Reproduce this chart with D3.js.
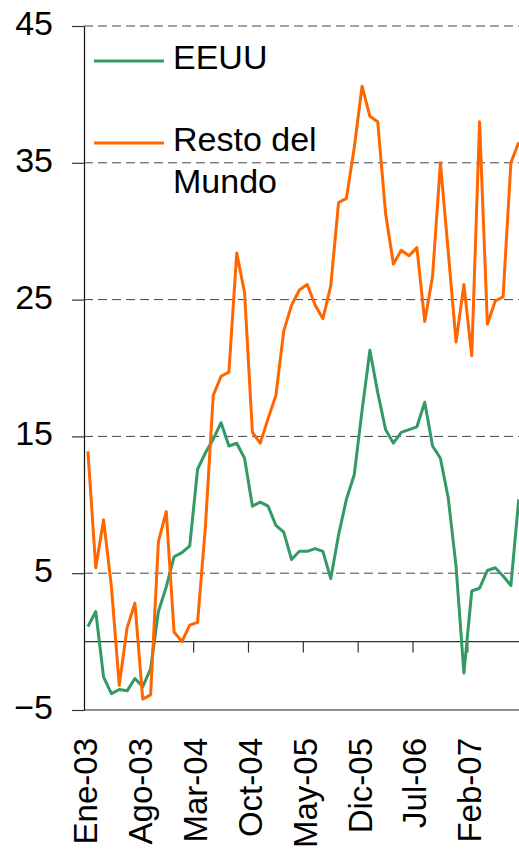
<!DOCTYPE html>
<html>
<head>
<meta charset="utf-8">
<script src="https://cdn.jsdelivr.net/npm/d3@7"></script>
<style>
  body { margin: 0; background: #fff; }
  svg { display: block; font-family: "Liberation Sans", Arial, sans-serif; }
</style>
</head>
<body>
<script>
// month names, Spanish abbreviations
var monthNames = ["Ene", "Feb", "Mar", "Abr", "May", "Jun", "Jul", "Ago", "Sep", "Oct", "Nov", "Dic"];
var years = ["03", "04", "05", "06", "07"];
var nMonths = 56; // Ene-03 .. Ago-07

var yTicks = [-5, 5, 15, 25, 35, 45];
var gridValues = [5, 15, 25, 35, 45];

var eeuu = [
  1.1, 2.2, -2.6, -3.8, -3.5, -3.6, -2.7, -3.3, -2.0, 2.2, 4.0, 6.2,
  6.5, 7.0, 12.6, 13.8, 14.8, 16.0, 14.3, 14.5, 13.4, 9.9, 10.2, 9.9,
  8.5, 8.0, 6.0, 6.6, 6.6, 6.8, 6.6, 4.6, 7.8, 10.4, 12.2, 16.9,
  21.3, 18.2, 15.5, 14.5, 15.3, 15.5, 15.7, 17.5, 14.3, 13.4, 10.5, 5.5,
  -2.3, 3.7, 3.9, 5.2, 5.4, 4.8, 4.1, 10.4
];
var restoMundo = [
  13.9, 5.4, 8.9, 4.0, -3.2, 1.0, 2.8, -4.2, -3.9, 7.3, 9.5, 0.7,
  0.0, 1.2, 1.4, 8.4, 18.0, 19.4, 19.7, 28.4, 25.5, 15.3, 14.5, 16.3,
  18.0, 22.7, 24.6, 25.7, 26.1, 24.6, 23.6, 26.0, 32.1, 32.4, 36.1, 40.6,
  38.4, 38.0, 31.3, 27.6, 28.6, 28.2, 28.8, 23.4, 26.7, 35.0, 28.5, 21.9,
  26.1, 20.9, 38.0, 23.2, 24.9, 25.2, 35.0, 36.5
];

var series = [
  { name: ["EEUU"], values: eeuu, color: "#339966" },
  { name: ["Resto del", "Mundo"], values: restoMundo, color: "#FF6600" }
];

var months = [];
for (var i = 0; i < nMonths; i++) {
  months.push(monthNames[i % 12] + "-" + years[Math.floor(i / 12)]);
}

var width = 519, height = 849;
var plotLeft = 84, plotTop = 26, plotBottom = 710;
var step = 7.833;

var svg = d3.select("body").append("svg")
  .attr("width", width)
  .attr("height", height);

var x = d3.scaleBand()
  .domain(months)
  .range([plotLeft, plotLeft + nMonths * step])
  .paddingInner(0).paddingOuter(0);

var y = d3.scaleLinear()
  .domain([-5, 45])
  .range([plotBottom, plotTop]);

// dashed gridlines
svg.append("g").selectAll("line")
  .data(gridValues)
  .enter().append("line")
  .attr("x1", plotLeft).attr("x2", width)
  .attr("y1", function (d) { return y(d); })
  .attr("y2", function (d) { return y(d); })
  .attr("stroke", "#444")
  .attr("stroke-width", 1)
  .attr("stroke-dasharray", "9,5");

// bottom border at -5
svg.append("line")
  .attr("x1", plotLeft).attr("x2", width)
  .attr("y1", y(-5)).attr("y2", y(-5))
  .attr("stroke", "#222").attr("stroke-width", 1.2);

// zero line with category ticks
svg.append("line")
  .attr("x1", plotLeft).attr("x2", width)
  .attr("y1", y(0)).attr("y2", y(0))
  .attr("stroke", "#333").attr("stroke-width", 1.2);

var labelMonths = months.filter(function (d, i) { return i % 7 === 0; });

svg.append("g").selectAll("line")
  .data(labelMonths.slice(1))
  .enter().append("line")
  .attr("x1", function (d) { return x(d); })
  .attr("x2", function (d) { return x(d); })
  .attr("y1", y(0)).attr("y2", y(0) + 11)
  .attr("stroke", "#333").attr("stroke-width", 1.2);

// y axis
var yAxis = d3.axisLeft(y)
  .tickValues(yTicks)
  .tickSize(12)
  .tickSizeOuter(0)
  .tickPadding(19);

var gy = svg.append("g")
  .attr("transform", "translate(" + plotLeft + ",0)")
  .call(yAxis);
gy.select(".domain").attr("stroke", "#111").attr("stroke-width", 1.2);
gy.selectAll(".tick line").attr("stroke", "#333").attr("stroke-width", 1.2);
gy.selectAll(".tick text")
  .attr("font-size", 34)
  .attr("font-family", "Liberation Sans, Arial, sans-serif")
  .attr("fill", "#000")
  .attr("dy", "0.25em");

// x labels, rotated
svg.append("g").selectAll("text")
  .data(labelMonths)
  .enter().append("text")
  .attr("transform", function (d) { return "translate(" + (x(d) + 1.5) + ",738) rotate(-90)"; })
  .attr("text-anchor", "end")
  .attr("dy", "0.36em")
  .attr("font-size", 33)
  .attr("fill", "#000")
  .text(function (d) { return d; });

// lines
var line = d3.line()
  .x(function (d, i) { return x(months[i]) + x.bandwidth() / 2; })
  .y(function (d) { return y(d); });

svg.append("defs").append("clipPath").attr("id", "clip")
  .append("rect").attr("x", plotLeft).attr("y", 0).attr("width", width - plotLeft).attr("height", height);

svg.append("g").attr("clip-path", "url(#clip)")
  .selectAll("path")
  .data(series)
  .enter().append("path")
  .attr("d", function (d) { return line(d.values); })
  .attr("fill", "none")
  .attr("stroke", function (d) { return d.color; })
  .attr("stroke-width", 3)
  .attr("stroke-linejoin", "round");

// legend
var legendY = [61, 143];
var legend = svg.append("g").selectAll("g")
  .data(series)
  .enter().append("g")
  .attr("transform", function (d, i) { return "translate(0," + legendY[i] + ")"; });

legend.append("line")
  .attr("x1", 94).attr("x2", 164)
  .attr("y1", 0).attr("y2", 0)
  .attr("stroke", function (d) { return d.color; })
  .attr("stroke-width", 3);

legend.each(function (d) {
  var g = d3.select(this);
  d.name.forEach(function (t, k) {
    g.append("text")
      .attr("x", 173)
      .attr("y", 8 + k * 42)
      .attr("font-size", 34)
      .attr("fill", "#000")
      .text(t);
  });
});
</script>
</body>
</html>
